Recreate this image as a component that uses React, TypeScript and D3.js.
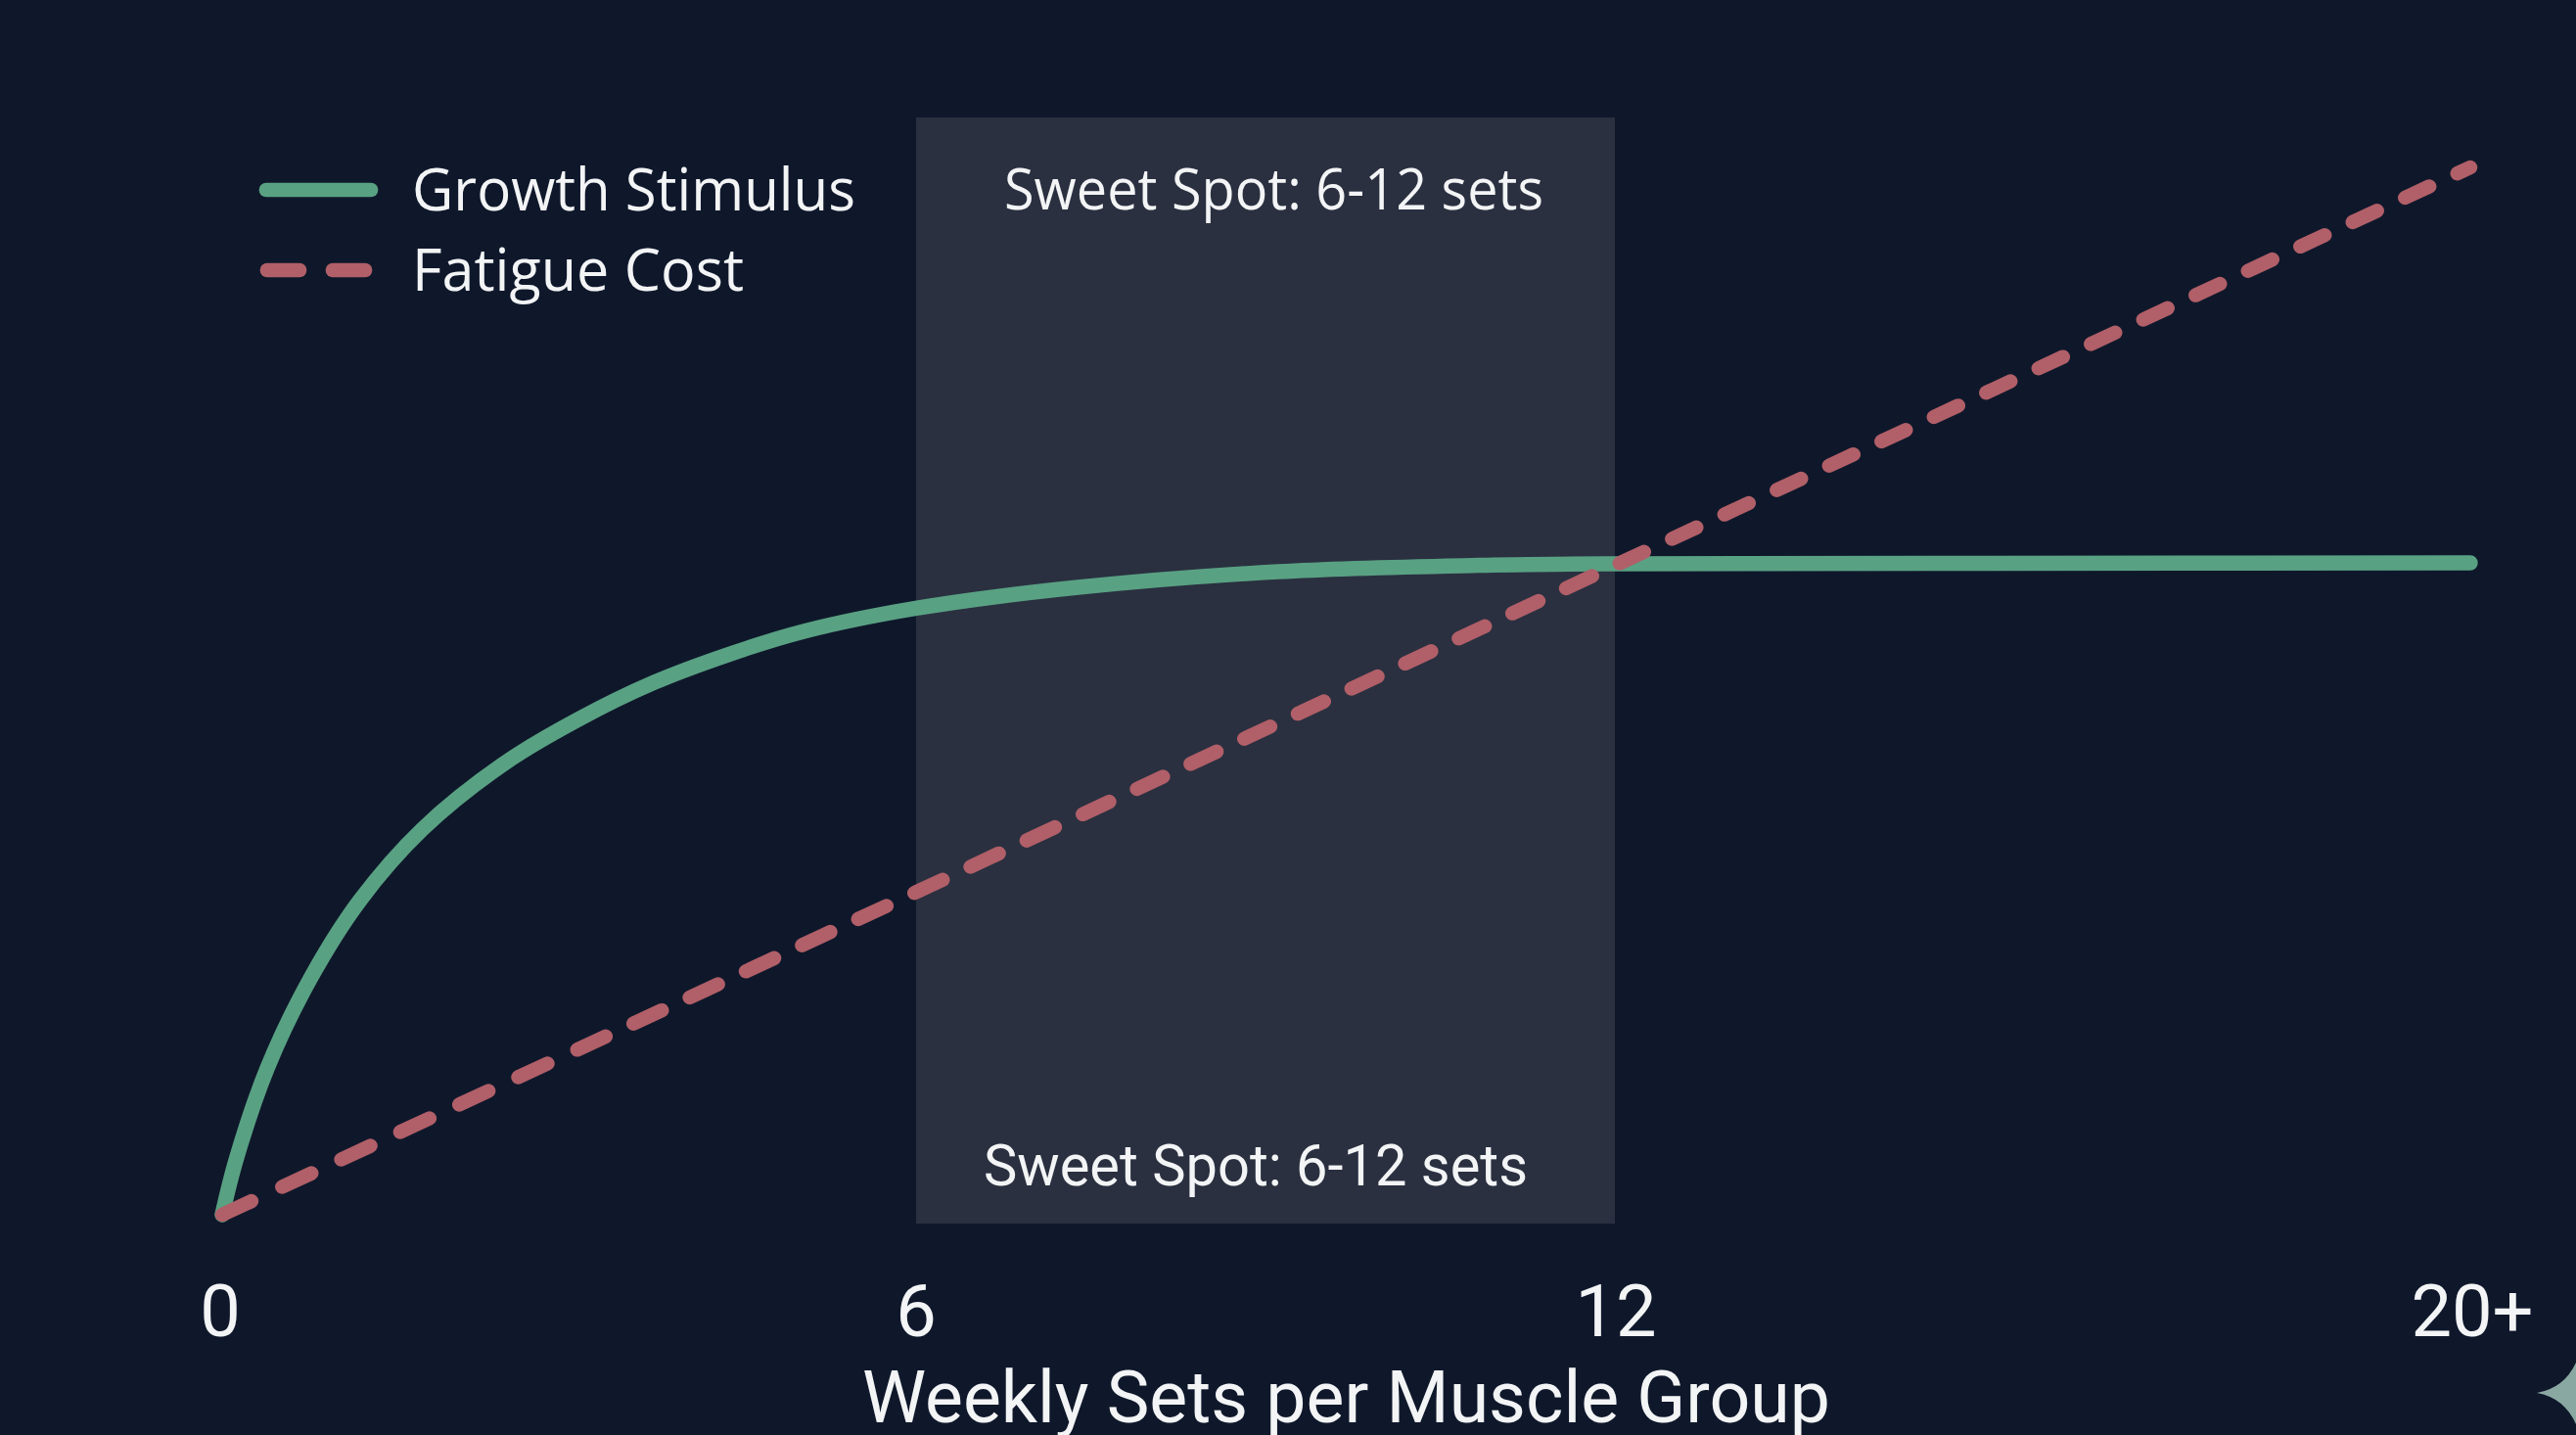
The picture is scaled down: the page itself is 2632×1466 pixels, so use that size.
import * as d3 from 'd3';

const width = 2632;
const height = 1466;

// weekly sets (x) against relative response (y)
const growthSets = [0, 0.124, 0.39, 0.76, 1.19, 1.73, 2.44, 3.08, 3.73, 4.38, 5.03, 6, 7.39, 9.11, 10.83, 12, 15.2, 20];
const growthValues = [0, 5.4, 14, 22.5, 30, 36.8, 43.1, 47.3, 50.8, 53.5, 55.7, 57.9, 59.9, 61.4, 62, 62.15, 62.2, 62.25];
const fatigueSets = [0, 6, 12, 20];
const fatigueValues = [0, 30.8, 62, 100];

const tickSets = [0, 6, 12, 20];
const tickLabels = ['0', '6', '12', '20+'];
const sweetSpot = [6, 12];
const seriesNames = ['Growth Stimulus', 'Fatigue Cost'];
const sweetSpotLabel = 'Sweet Spot: 6-12 sets';
const xTitle = 'Weekly Sets per Muscle Group';

const bg = '#0f182b';
const band = '#2a3040';
const green = '#59a183';
const red = '#b15f68';
const textColor = '#f3f4f5';

const x = d3.scaleLinear([0, 6, 12, 20], [227, 936, 1650, 2524]);
const y = d3.scaleLinear([0, 100], [1241, 171]);

const growthLine = d3
  .line<number>((d) => x(d), (_, i) => y(growthValues[i]))
  .curve(d3.curveCatmullRom.alpha(0.5));
const fatigueLine = d3.line<number>((d) => x(d), (_, i) => y(fatigueValues[i]));

// the dashes tighten a little toward the right: [run length, dash, gap]
const dashRuns = [
  [1, 33, 34.6],
  [5, 33, 33.5],
  [9, 32, 31.3],
  [1, 30, 31.1],
  [9, 29.5, 31],
  [16, 27.5, 31.5],
];
const fatigueDash = dashRuns
  .flatMap(([n, dash, gap]) => d3.range(n).flatMap(() => [dash, gap]))
  .join(' ');

const openSans = '"Open Sans", sans-serif';
const roboto = 'Roboto, sans-serif';

export default function App() {
  const tickNudge = [-2, 0, 1, 2];
  return (
    <svg
      width={width}
      height={height}
      style={{ position: 'absolute', left: 0, top: 0, display: 'block' }}
    >
      <rect width={width} height={height} fill={bg} />
      <rect
        x={x(sweetSpot[0])}
        y={120}
        width={x(sweetSpot[1]) - x(sweetSpot[0])}
        height={1130}
        fill={band}
      />

      <path
        d={growthLine(growthSets) ?? ''}
        fill="none"
        stroke={green}
        strokeWidth={15.5}
        strokeLinecap="round"
        strokeLinejoin="round"
      />
      <path
        d={fatigueLine(fatigueSets) ?? ''}
        fill="none"
        stroke={red}
        strokeWidth={14.5}
        strokeLinecap="round"
        strokeDasharray={fatigueDash}
      />

      <line x1={272} x2={379} y1={194} y2={194} stroke={green} strokeWidth={14.7} strokeLinecap="round" />
      <line x1={273} x2={306} y1={276} y2={276} stroke={red} strokeWidth={14.7} strokeLinecap="round" />
      <line x1={340} x2={373} y1={276} y2={276} stroke={red} strokeWidth={14.7} strokeLinecap="round" />
      <text x={421} y={215} fontFamily={openSans} fontSize={60} textLength={453} lengthAdjust="spacingAndGlyphs" fill={textColor}>
        {seriesNames[0]}
      </text>
      <text x={421} y={297} fontFamily={openSans} fontSize={60} textLength={339} lengthAdjust="spacingAndGlyphs" fill={textColor}>
        {seriesNames[1]}
      </text>

      <text x={1026} y={214} fontFamily={openSans} fontSize={58} textLength={551} lengthAdjust="spacingAndGlyphs" fill={textColor}>
        {sweetSpotLabel}
      </text>
      <text x={1005} y={1211} fontFamily={roboto} fontSize={59} textLength={556} lengthAdjust="spacingAndGlyphs" fill={textColor}>
        {sweetSpotLabel}
      </text>

      {tickSets.map((t, i) => (
        <text
          key={t}
          x={x(t) + tickNudge[i]}
          y={1365}
          textAnchor="middle"
          fontFamily={roboto}
          fontSize={74}
          fill={textColor}
        >
          {tickLabels[i]}
        </text>
      ))}
      <text x={1375.5} y={1453} textAnchor="middle" fontFamily={roboto} fontSize={73.4} fill={textColor}>
        {xTitle}
      </text>

      {/* sparkle cut off by the right edge */}
      <path d="M 2592 1423 Q 2620 1418 2632 1392 L 2632 1455 Q 2620 1428 2592 1423 Z" fill="#8aa8a2" />
    </svg>
  );
}
